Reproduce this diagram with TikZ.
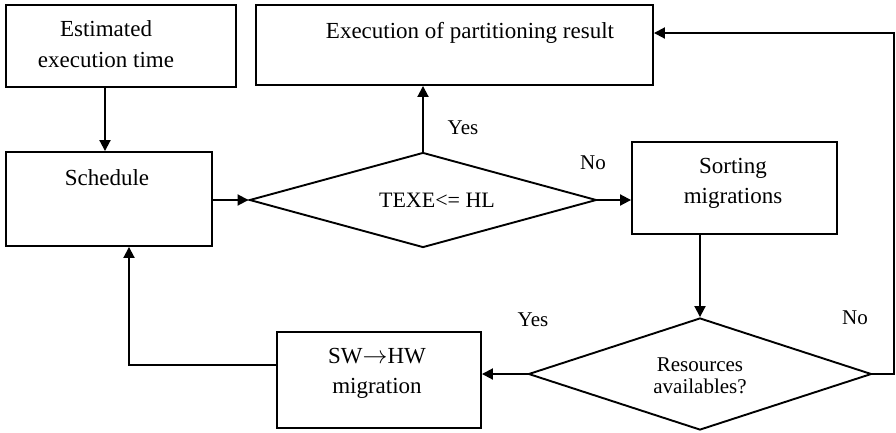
\documentclass[tikz,border=0pt]{standalone}
\usepackage{fontspec}
\setmainfont{Liberation Serif}
\usetikzlibrary{shapes.geometric,arrows.meta}

\begin{document}
\begin{tikzpicture}[x=1pt,y=-1pt,
  every node/.style={inner sep=0pt},
  flowbox/.style={draw,line width=1.9pt,rectangle},
  decide/.style={draw,line width=1.9pt,diamond},
  boxtext/.style={align=center,font=\fontsize{23}{31}\selectfont},
  smalltext/.style={align=center,font=\fontsize{21}{22}\selectfont},
  tag/.style={font=\fontsize{21}{22}\selectfont},
  conn/.style={line width=1.9pt},
  arr/.style={conn,-{Triangle[length=11pt,width=11pt]}}
]
\useasboundingbox (0,0) rectangle (896,432);

% process boxes
\node[flowbox,minimum width=230pt,minimum height=82pt] (est)   at (121,46)    {};
\node[flowbox,minimum width=206pt,minimum height=94pt] (sched) at (109,199)   {};
\node[flowbox,minimum width=397pt,minimum height=80pt] (exec)  at (454.5,45)  {};
\node[flowbox,minimum width=205pt,minimum height=92pt] (sort)  at (734.5,188) {};
\node[flowbox,minimum width=204pt,minimum height=96pt] (sw)    at (379,380)   {};

% decisions
\node[decide,minimum width=347pt,minimum height=95pt]  (d1) at (423,200) {};
\node[decide,minimum width=343pt,minimum height=112pt] (d2) at (700,374) {};

% texts
\node[boxtext] (testt) at (106,44)  {Estimated\\execution time};
\node[boxtext] (tsch)  at (107,178) {Schedule};
\node[boxtext] (texe)  at (470,33)  {Execution of partitioning result};
\node[boxtext,font=\fontsize{23}{30}\selectfont] (tsort) at (733,183) {Sorting\\migrations};
\node[boxtext,font=\fontsize{23}{30}\selectfont] (tsw)   at (377,373) {SW$\rightarrow$HW\\migration};
\node[smalltext,font=\fontsize{22}{22}\selectfont] (td1) at (437,200) {TEXE<= HL};
\node[smalltext] (td2) at (700,376) {Resources\\availables?};

% branch labels
\node[tag] (yes1) at (463,128) {Yes};
\node[tag] (no1)  at (593,163) {No};
\node[tag] (no2)  at (855,318) {No};
\node[tag] (yes2) at (533,320) {Yes};

% connectors
\coordinate (rt) at (894,33);
\coordinate (bk) at (129,365);
\coordinate (ea) at (105,0);

\draw[arr] (est.south -| ea) -- (sched.north -| ea);
\draw[arr] (sched.east |- d1.west) -- (d1.west);
\draw[arr] (d1.north) -- (d1.north |- exec.south);
\draw[arr] (d1.east) -- (sort.west |- d1.east);
\draw[arr] (d2.north |- sort.south) -- (d2.north);
\draw[arr] (d2.east) -- (rt |- d2.east) -- (rt) -- (exec.east |- rt);
\draw[arr] (d2.west) -- (sw.east |- d2.west);
\draw[arr] (sw.west |- bk) -- (bk) -- (bk |- sched.south);
\end{tikzpicture}
\end{document}
